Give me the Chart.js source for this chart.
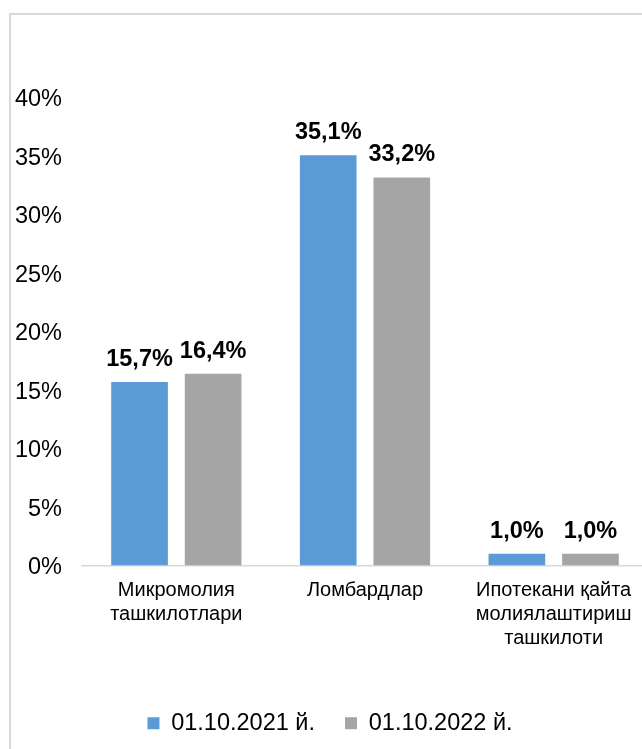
<!DOCTYPE html>
<html>
<head>
<meta charset="utf-8">
<script src="https://cdn.jsdelivr.net/npm/chart.js@4.4.0/dist/chart.umd.min.js"></script>
<style>
    html, body { margin: 0; padding: 0; background: #fff; overflow: hidden; width: 642px; height: 749px; }
    #frame { position: absolute; left: 9px; top: 13px; width: 700px; height: 800px; border: 2px solid #d9d9d9; }
    #wrap { position: absolute; left: 0; top: 0; width: 662px; height: 749px; }
</style>
</head>
<body>
<div id="frame"></div>
<div id="wrap"><canvas id="chart"></canvas></div>
<script>
const categories = [
    ['Микромолия', 'ташкилотлари'],
    'Ломбардлар',
    ['Ипотекани қайта', 'молиялаштириш', 'ташкилоти']
];
const seriesNames = ['01.10.2021 й.', '01.10.2022 й.'];
const values2021 = [15.7, 35.1, 1.0];
const values2022 = [16.4, 33.2, 1.0];

const FONT = "'Liberation Sans', Arial, sans-serif";

// Bold value labels above every bar
const valueLabels = {
    id: 'valueLabels',
    afterDatasetsDraw(chart) {
        const { ctx } = chart;
        ctx.save();
        ctx.font = `bold 23.5px ${FONT}`;
        ctx.fillStyle = '#000';
        ctx.textAlign = 'center';
        ctx.textBaseline = 'alphabetic';
        chart.data.datasets.forEach((ds, i) => {
            chart.getDatasetMeta(i).data.forEach((bar, j) => {
                const txt = ds.data[j].toFixed(1).replace('.', ',') + '%';
                ctx.fillText(txt, bar.x, bar.y - 16);
            });
        });
        ctx.restore();
    }
};

new Chart(document.getElementById('chart'), {
    type: 'bar',
    data: {
        labels: categories,
        datasets: [
            {
                label: seriesNames[0],
                data: values2021,
                backgroundColor: '#5b9bd5',
                categoryPercentage: 0.78,
                barPercentage: 0.77
            },
            {
                label: seriesNames[1],
                data: values2022,
                backgroundColor: '#a5a5a5',
                categoryPercentage: 0.78,
                barPercentage: 0.77
            }
        ]
    },
    options: {
        responsive: true,
        maintainAspectRatio: false,
        animation: false,
        layout: { padding: { left: 12, top: 98, right: 14, bottom: 4 } },
        plugins: {
            legend: {
                position: 'bottom',
                labels: {
                    boxWidth: 12,
                    boxHeight: 12,
                    padding: 30,
                    color: '#000',
                    font: { family: FONT, size: 23.5 }
                }
            },
            tooltip: { enabled: false }
        },
        scales: {
            x: {
                grid: { display: false, drawTicks: false },
                border: { color: '#d9d9d9', width: 1.5 },
                ticks: {
                    color: '#000',
                    padding: 13,
                    maxRotation: 0,
                    autoSkip: false,
                    font: { family: FONT, size: 20, lineHeight: 1.2 }
                },
                afterFit: (scale) => { scale.height = 116; }
            },
            y: {
                min: 0,
                max: 40,
                grid: { display: false, drawTicks: false },
                border: { display: false },
                ticks: {
                    stepSize: 5,
                    color: '#000',
                    padding: 20,
                    labelOffset: 2,
                    font: { family: FONT, size: 23.5 },
                    callback: (v) => v + '%'
                },
                afterFit: (scale) => { scale.width = 70; }
            }
        }
    },
    plugins: [valueLabels]
});
</script>
</body>
</html>
